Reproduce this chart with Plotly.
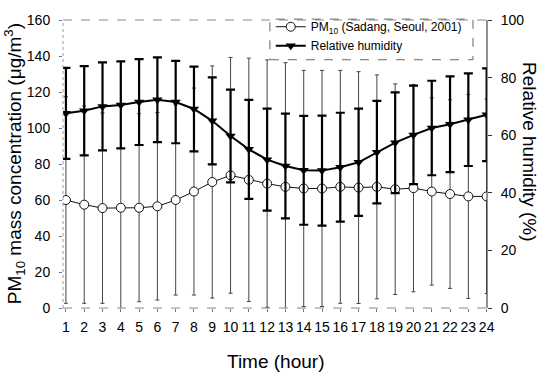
import plotly.graph_objects as go

# Diurnal (hourly) means and standard deviations
hours = list(range(1, 25))
hour_labels = [str(h) for h in hours]

pm10_mean = [60.0, 57.4, 55.5, 55.7, 55.7, 56.5, 60.0, 64.7, 70.0, 73.7, 71.2, 69.1,
             67.3, 66.4, 66.4, 67.3, 66.9, 67.3, 66.0, 66.6, 64.7, 63.3, 62.0, 62.0]
pm10_sd = [57.4, 54.8, 52.9, 56.5, 52.2, 52.1, 52.8, 57.5, 64.5, 65.5, 67.6, 68.7,
           69.0, 65.6, 65.6, 64.7, 64.4, 62.2, 58.5, 57.6, 52.0, 52.4, 56.7, 54.0]

rh_mean = [67.6, 68.5, 70.0, 70.5, 71.5, 72.3, 71.5, 69.1, 65.0, 59.7, 55.1, 51.5,
           49.3, 47.8, 47.7, 48.9, 50.6, 54.1, 57.4, 60.1, 62.5, 63.8, 65.4, 67.1]
rh_sd = [15.8, 15.5, 15.3, 15.1, 14.9, 14.7, 14.3, 14.7, 15.1, 16.1, 17.2, 17.7,
         18.2, 18.9, 19.1, 18.9, 18.6, 17.8, 17.5, 17.1, 16.4, 16.6, 16.1, 16.1]

pm10_ticks = [0, 20, 40, 60, 80, 100, 120, 140, 160]
rh_ticks = [0, 20, 40, 60, 80, 100]

FONT = "Liberation Sans, Arial, sans-serif"

fig = go.Figure()

fig.add_trace(go.Scatter(
    x=hours, y=pm10_mean,
    name="PM<sub>10</sub> (Sadang, Seoul, 2001)",
    mode="lines+markers",
    line=dict(color="#111", width=1),
    marker=dict(symbol="circle", size=9, color="white",
                line=dict(color="#111", width=1)),
    error_y=dict(type="data", array=pm10_sd, visible=True,
                 color="#444", thickness=1, width=2),
    yaxis="y",
))

fig.add_trace(go.Scatter(
    x=hours, y=rh_mean,
    name="Relative humidity",
    mode="lines+markers",
    line=dict(color="black", width=2),
    marker=dict(symbol="triangle-down", size=9, color="black"),
    error_y=dict(type="data", array=rh_sd, visible=True,
                 color="black", thickness=2.2, width=4.5),
    yaxis="y2",
))

# Frame: dashed grey on three sides, solid right axis
frame = dict(type="line", xref="paper", yref="paper", layer="above")
fig.add_shape(**frame, x0=0, x1=1, y0=1, y1=1, line=dict(color="#888", width=1, dash="dash"))
fig.add_shape(**frame, x0=0, x1=1, y0=0, y1=0, line=dict(color="#888", width=1, dash="dash"))
fig.add_shape(**frame, x0=0, x1=0, y0=0, y1=1, line=dict(color="#999", width=1, dash="dot"))
fig.add_shape(**frame, x0=1, x1=1, y0=0, y1=1, line=dict(color="#222", width=1))

# Legend box
fig.add_shape(type="rect", xref="paper", yref="paper", layer="above",
              x0=0.488, x1=0.967, y0=0.862, y1=1.003,
              line=dict(color="#666", width=1, dash="dash"))

fig.add_annotation(text="PM<sub>10</sub> mass concentration (\u03bcg/m<sup>3</sup>)",
                   xref="paper", yref="paper", x=-0.115, y=0.5,
                   xanchor="center", yanchor="middle", textangle=-90,
                   showarrow=False, font=dict(family=FONT, size=19, color="black"))
fig.add_annotation(text="Relative humidity (%)",
                   xref="paper", yref="paper", x=1.1, y=0.54,
                   xanchor="center", yanchor="middle", textangle=90,
                   showarrow=False, font=dict(family=FONT, size=19, color="black"))
fig.add_annotation(text="Time (hour)",
                   xref="paper", yref="paper", x=0.5, y=-0.185,
                   xanchor="center", yanchor="middle",
                   showarrow=False, font=dict(family=FONT, size=19, color="black"))

fig.update_layout(
    width=543, height=376,
    margin=dict(l=63, r=56, t=18, b=68),
    paper_bgcolor="white", plot_bgcolor="white",
    font=dict(family=FONT, size=14, color="black"),
    showlegend=True,
    legend=dict(x=0.49, y=1.027, xanchor="left", yanchor="top",
                bgcolor="rgba(0,0,0,0)", borderwidth=0,
                font=dict(family=FONT, size=12, color="black"),
                itemwidth=30, tracegroupgap=0),
    xaxis=dict(range=[0.84, 24.02], tickmode="array", tickvals=hours,
               ticktext=hour_labels, ticks="outside", ticklen=3,
               tickcolor="#777", showgrid=False, zeroline=False,
               showline=False, ticklabelstandoff=3,
               tickfont=dict(family=FONT, size=14)),
    yaxis=dict(range=[0, 160], tickmode="array", tickvals=pm10_ticks,
               ticks="outside", ticklen=3, tickcolor="#777",
               showgrid=False, zeroline=False, showline=False,
               ticklabelstandoff=6, tickfont=dict(family=FONT, size=14)),
    yaxis2=dict(range=[0, 100], overlaying="y", side="right",
                tickmode="array", tickvals=rh_ticks,
                ticks="outside", ticklen=4, tickcolor="#333",
                showgrid=False, zeroline=False, showline=False,
                ticklabelstandoff=6, tickfont=dict(family=FONT, size=14)),
)

fig.write_html("out.html")
